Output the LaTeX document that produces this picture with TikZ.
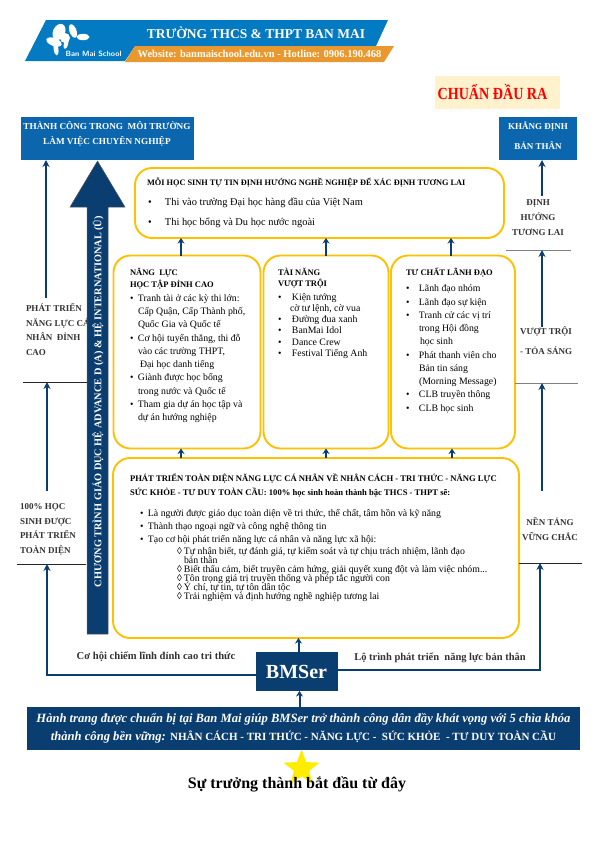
\documentclass[tikz,border=0pt]{standalone}
\usepackage{fontspec}
\setmainfont{Liberation Serif}
\usetikzlibrary{arrows.meta,shapes.geometric}
\definecolor{navy}{HTML}{0A3D70}
\definecolor{midblue}{HTML}{0B66AE}
\definecolor{headblue}{HTML}{047AC2}
\definecolor{headorange}{HTML}{E8982E}
\definecolor{boxyellow}{HTML}{FFC000}
\definecolor{cream}{HTML}{FFF2CC}
\setlength{\lineskiplimit}{-20pt}
\setlength{\normallineskiplimit}{-20pt}
\newcommand{\bul}{\makebox[14pt][l]{•}}
\newcommand{\bulb}{\makebox[8pt][l]{•}}
\newcommand{\dia}{\makebox[7pt][l]{◊}}
\begin{document}
\begin{tikzpicture}[x=1pt, y=-1pt, every node/.style={inner sep=0pt, outer sep=0pt},
	yb/.style={draw=boxyellow, line width=1.9pt, fill=white, rounded corners=17pt},
	bb/.style={fill=midblue, text=white, align=center, font=\bfseries\fontsize{9}{14}\selectfont},
	arr/.style={draw=navy, line width=2pt, -{Stealth[length=7pt,width=7pt]}},
	sarr/.style={draw=navy, line width=2pt, -{Stealth[length=5.5pt,width=7pt]}},
	lbl/.style={align=left, anchor=west, text=black!80, font=\bfseries\fontsize{9}{14.6}\selectfont},
	lblc/.style={align=center, text=black!80, font=\bfseries\fontsize{9}{15}\selectfont},
	hd/.style={align=left, anchor=north west, font=\bfseries\fontsize{8.5}{11.6}\selectfont},
	body/.style={align=left, anchor=north west, font=\fontsize{9.8}{13.25}\selectfont},
	rl/.style={line width=0.8pt, black!85}]
	\useasboundingbox (0,0) rectangle (595,841);
	% header
	\fill[headblue] (46,20) -- (388,20) -- (376,46) -- (135,46) -- (125,61) -- (25,61) -- cycle;
	\fill[headorange] (135,46) -- (394,46) -- (384,62) -- (125,62) -- cycle;
	\fill[white, rotate around={-25:(59,32)}] (59,32) ellipse (6 and 8.5);
	\fill[white, rotate around={20:(73,31)}] (73,31) ellipse (3.5 and 7);
	\fill[white] (83,37) ellipse (6.5 and 3.2);
	\fill[white, rotate around={-20:(54,42)}] (54,42) ellipse (8 and 4);
	\fill[white, rotate around={8:(56,49)}] (56,49) ellipse (2.4 and 6.5);
	\fill[white, rotate around={-15:(66,44)}] (66,44) ellipse (2.2 and 5);
	\fill[white] (65,38) circle (5);
	\node[text=white, font=\sffamily\bfseries\fontsize{7.6}{8}\selectfont] (logo) at (93.5,54) {\addfontfeature{LetterSpace=7}Ban Mai School};
	\node[text=white, font=\bfseries\fontsize{13.5}{16}\selectfont] (school) at (256,33) {TRƯỜNG THCS \& THPT BAN MAI};
	\node[text=white, font=\bfseries\fontsize{10.5}{12}\selectfont] (web) at (259.5,54) {Website: banmaischool.edu.vn - Hotline: 0906.190.468};
	\node[fill=cream, minimum width=125pt, minimum height=33pt] (chuan) at (497.5,92.5) {};
	\node[text=red, font=\bfseries\fontsize{17}{18}\selectfont] (chuantxt) at (492.5,92) {\addfontfeature{FakeStretch=0.83}CHUẨN ĐẦU RA};
	% side labels sit under the big arrow
	\node[lbl] (phat) at (26,329.5) {PHÁT TRIỂN\\NĂNG LỰC CÁ\\NHÂN~ ĐỈNH\\CAO};
	\node[lbl] (hs) at (20,529.5) {100\% HỌC\\SINH ĐƯỢC\\PHÁT TRIỂN\\TOÀN DIỆN};
	\node[lblc] (nen) at (550,529) {NỀN TẢNG\\VỮNG CHẮC};
	\node[lblc, font=\bfseries\fontsize{9}{20}\selectfont] (vuot) at (546,341) {VƯỢT TRỘI\\- TỎA SÁNG};
	\node[lblc] (dinh) at (538,218) {ĐỊNH\\HƯỚNG\\TƯƠNG LAI};
	% top blue boxes
	\node[bb, minimum width=173pt, minimum height=43pt] (cong) at (107.5,138.5) {};
	\node[text=white, align=center, font=\bfseries\fontsize{9.2}{14.5}\selectfont] (congtxt) at (107,134) {THÀNH CÔNG TRONG~ MÔI TRƯỜNG\\LÀM VIỆC CHUYÊN NGHIỆP};
	\node[bb, minimum width=78pt, minimum height=43pt] (khang) at (538,138.5) {};
	\node[text=white, align=center, font=\bfseries\fontsize{9}{20}\selectfont] (khangtxt) at (538,136) {KHẲNG ĐỊNH\\BẢN THÂN};
	% big arrow
	\fill[navy, draw=gray!70!black, line width=0.5pt] (87,634) -- (87,207) -- (70,207) -- (97.5,161) -- (125,207) -- (108,207) -- (108,634) -- cycle;
	\node[rotate=90, text=white, anchor=west, font=\bfseries\fontsize{10.3}{12}\selectfont] (prog) at (98,587) {CHƯƠNG TRÌNH GIÁO DỤC HỆ ADVANCE D (A) \& HỆ INTERNATIONAL (Ü)};
	% yellow boxes
	\node[yb, minimum width=369pt, minimum height=70pt] (top) at (319.5,203) {};
	\node[yb, minimum width=147pt, minimum height=193pt] (nl) at (187,352) {};
	\node[yb, minimum width=125pt, minimum height=193pt] (tn) at (326,352) {};
	\node[yb, minimum width=124pt, minimum height=193pt] (tc) at (453,352) {};
	\node[yb, minimum width=406pt, minimum height=180pt] (pt) at (316,548) {};
	\node[hd, font=\bfseries\fontsize{8.3}{11.4}\selectfont] (toptt) at (147,177.5) {MỖI HỌC SINH TỰ TIN ĐỊNH HƯỚNG NGHỀ NGHIỆP ĐỂ XÁC ĐỊNH TƯƠNG LAI};
	\node[body, font=\fontsize{10.4}{20}\selectfont] (toplist) at (148,198) {\makebox[17pt][l]{•}Thi vào trường Đại học hàng đầu của Việt Nam\\\makebox[17pt][l]{•}Thi học bổng và Du học nước ngoài};
	\node[hd] (nltt) at (130,268.5) {NĂNG~ LỰC\\HỌC TẬP ĐỈNH CAO};
	\node[body] (nllist) at (130,294.5) {\bulb Tranh tài ở các kỳ thi lớn:\\\hspace*{8pt}Cấp Quận, Cấp Thành phố,\\\hspace*{8pt}Quốc Gia và Quốc tế\\\bulb Cơ hội tuyển thẳng, thi đỗ\\\hspace*{8pt}vào các trường THPT,\\\hspace*{10pt}Đại học danh tiếng\\\bulb Giành được học bổng\\\hspace*{8pt}trong nước và Quốc tế\\\bulb Tham gia dự án học tập và\\\hspace*{8pt}dự án hướng nghiệp};
	\node[hd] (tntt) at (278,268) {TÀI NĂNG\\VƯỢT TRỘI};
	\node[body, font=\fontsize{9.8}{11.2}\selectfont] (tnlist) at (278,293.5) {\bul Kiện tướng\\\hspace*{12pt}cờ tư lệnh, cờ vua\\\bul Đường đua xanh\\\bul BanMai Idol\\\bul Dance Crew\\\bul Festival Tiếng Anh};
	\node[hd] (tctt) at (406,268) {TƯ CHẤT LÃNH ĐẠO};
	\node[body] (tclist) at (406,285) {\makebox[13pt][l]{•}Lãnh đạo nhóm\\\makebox[13pt][l]{•}Lãnh đạo sự kiện\\\makebox[13pt][l]{•}Tranh cử các vị trí\\\hspace*{13pt}trong Hội đồng\\\hspace*{14pt}học sinh\\\makebox[13pt][l]{•}Phát thanh viên cho\\\hspace*{13pt}Bản tin sáng\\\hspace*{13pt}(Morning Message)\\\makebox[13pt][l]{•}CLB truyền thông\\\makebox[13pt][l]{•}CLB học sinh};
	\node[hd, font=\bfseries\fontsize{8.6}{14}\selectfont] (pttt) at (130,474) {PHÁT TRIỂN TOÀN DIỆN NĂNG LỰC CÁ NHÂN VỀ NHÂN CÁCH - TRI THỨC - NĂNG LỰC\\SỨC KHỎE - TƯ DUY TOÀN CẦU: 100\% học sinh hoàn thành bậc THCS - THPT sẽ:};
	\node[body] (ptlist) at (140,509) {\bulb Là người được giáo dục toàn diện về tri thức, thể chất, tâm hồn và kỹ năng\\\bulb Thành thạo ngoại ngữ và công nghệ thông tin\\\bulb Tạo cơ hội phát triển năng lực cá nhân và năng lực xã hội:};
	\node[body, font=\fontsize{9.8}{9}\selectfont] (ptsub) at (177,547) {\dia Tự nhận biết, tự đánh giá, tự kiểm soát và tự chịu trách nhiệm, lãnh đạo\\\hspace*{7pt}bản thân\\\dia Biết thấu cảm, biết truyền cảm hứng, giải quyết xung đột và làm việc nhóm...\\\dia Tôn trọng giá trị truyền thống và phép tắc người con\\\dia Ý chí, tự tin, tự tôn dân tộc\\\dia Trải nghiệm và định hướng nghề nghiệp tương lai};
	% bottom
	\node[fill=navy, text=white, minimum width=82pt, minimum height=39pt, font=\bfseries\fontsize{20}{22}\selectfont] (bms) at (296.5,671.5) {BMSer};
	\node[fill=navy, text=white, minimum width=553pt, minimum height=43pt, align=center, font=\bfseries\fontsize{12.6}{18}\selectfont] (ban) at (303.5,728.5) {\itshape Hành trang được chuẩn bị tại Ban Mai giúp BMSer trở thành công dân đầy khát vọng với 5 chìa khóa\\\itshape thành công bền vững: \upshape\fontsize{11}{18}\selectfont NHÂN CÁCH - TRI THỨC - NĂNG LỰC -~ SỨC KHỎE~ - TƯ DUY TOÀN CẦU};
	\node[star, star points=5, star point ratio=2.4, fill=yellow!95!orange, minimum size=38pt] (sao) at (301.5,768.5) {};
	\node[font=\bfseries\fontsize{16}{18}\selectfont] (st) at (297,784) {Sự trưởng thành bắt đầu từ đây};
	\node[text=black!80, font=\bfseries\fontsize{10.6}{12}\selectfont] (co) at (156,657) {Cơ hội chiếm lĩnh đỉnh cao tri thức};
	\node[text=black!80, font=\bfseries\fontsize{10.5}{12}\selectfont] (lo) at (440,658) {Lộ trình phát triển~ năng lực bản thân};
	% rules
	\coordinate (ra) at (23,382); \coordinate (rb) at (87,382); \coordinate (rc) at (17,564); \coordinate (rd) at (86,564);
	\coordinate (re) at (519,563); \coordinate (rf) at (582,563); \coordinate (rg) at (515,383); \coordinate (rh) at (578,383);
	\coordinate (ri) at (506,250); \coordinate (rj) at (571,250);
	\draw[rl] (ra) -- (rb); \draw[rl] (rc) -- (rd); \draw[rl] (re) -- (rf);
	\draw[rl, gray] (rg) -- (rh); \draw[rl, gray] (ri) -- (rj);
	% arrows
	\coordinate (p1) at (46,298); \coordinate (p2) at (47,491); \coordinate (p3) at (542,491); \coordinate (p4) at (542,327); \coordinate (p5) at (542,196);
	\draw[arr] (p1) -- (p1 |- cong.south);
	\draw[arr] (p2) -- (p2 |- rb);
	\draw[arr] (bms.west |- 0,675) -| (rc -| p2);
	\draw[arr] (bms.east |- 0,670) -| (re -| 540,0);
	\draw[arr] (p3) -- (p3 |- rg);
	\draw[arr] (p4) -- (p4 |- ri);
	\draw[arr] (p5) -- (p5 |- khang.south);
	\draw[sarr] ([xshift=-6pt]nl.north) -- ([xshift=-6pt]nl.north |- top.south);
	\draw[sarr] (tn.north) -- (tn.north |- top.south);
	\draw[sarr] ([xshift=-2pt]tc.north) -- ([xshift=-2pt]tc.north |- top.south);
	\draw[sarr] ([xshift=-6pt]nl.south |- pt.north) -- ([xshift=-6pt]nl.south);
	\draw[sarr] (tn.south |- pt.north) -- (tn.south);
	\draw[sarr] ([xshift=-1pt]tc.south |- pt.north) -- ([xshift=-1pt]tc.south);
	\draw[sarr] ([xshift=2pt]bms.north) -- ([xshift=2pt]bms.north |- pt.south);
	\draw[sarr] ([xshift=-4pt]ban.north) -- ([xshift=-4pt]ban.north |- bms.south);
\end{tikzpicture}
\end{document}
